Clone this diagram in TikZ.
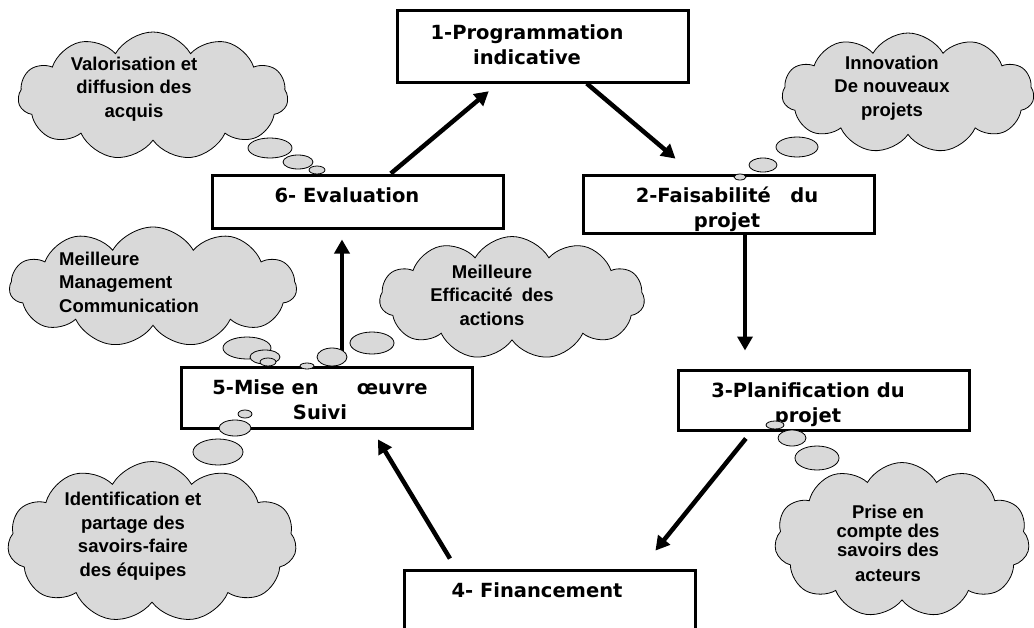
\documentclass[tikz,border=0pt]{standalone}
\usepackage{fontspec}
\newfontfamily\stagefont{DejaVu Sans}
\newfontfamily\thoughtfont{Liberation Sans}
\usetikzlibrary{shapes.symbols,arrows.meta}
\definecolor{cloudgray}{RGB}{217,217,217}

\begin{document}
\begin{tikzpicture}[x=1pt, y=-1pt,
  stage/.style = {draw, line width=3pt, minimum width=291pt},
  stagetext/.style = {font=\stagefont\bfseries\fontsize{19.5}{25}\selectfont, align=center, inner sep=0pt},
  thought/.style = {cloud, cloud puffs=11, cloud puff arc=120, cloud ignores aspect, draw, line width=.8pt, fill=cloudgray, inner sep=0pt},
  thoughttext/.style = {font=\thoughtfont\bfseries\fontsize{18.5}{23.5}\selectfont, align=center, inner sep=0pt},
  bubble/.style = {draw, line width=.8pt, fill=cloudgray},
  flow/.style = {line width=4.5pt, -{Triangle[length=14pt,width=15pt]}}]
  \useasboundingbox (0,0) rectangle (1034,627);

  % clouds
  \node[thought, minimum width=270pt, minimum height=128pt] (cval) at (153,96) {};
  \node[thought, minimum width=252pt, minimum height=120pt] (cinno) at (908,93) {};
  \node[thought, minimum width=287pt, minimum height=120pt] (cmana) at (153,287) {};
  \node[thought, minimum width=265pt, minimum height=123pt] (cflex) at (512,298) {};
  \node[thought, minimum width=255pt, minimum height=155pt] (cprise) at (902,540) {};
  \node[thought, minimum width=289pt, minimum height=161pt] (cident) at (152,542) {};

  \node[thoughttext] (tval) at (134,89) {Valorisation et\\diffusion des\\acquis};
  \node[thoughttext] (tinno) at (892,88) {Innovation\\De nouveaux\\projets};
  \node[thoughttext, align=left, anchor=west] (tmana) at (59,282) {Meilleure\\Management\\Communication};
  \node[thoughttext] (tflex) at (492,295) {Meilleure\\Efficacité\enspace des\\actions};
  \node[thoughttext, font=\thoughtfont\bfseries\fontsize{18.5}{19}\selectfont] (tprise) at (888,543) {Prise en\\compte des\\savoirs des\\[6pt]acteurs};
  \node[thoughttext] (tident) at (133,536) {Identification et\\partage des\\savoirs-faire\\des équipes};

  % stages
  \node[stage, minimum height=72pt] (b1) at (542.5,46) {};
  \node[stage, minimum height=58pt] (b2) at (729,204) {};
  \node[stage, minimum height=60pt] (b3) at (823.5,400) {};
  \node[stage, minimum height=64pt] (b4) at (550,602) {};
  \node[stage, minimum height=61pt] (b5) at (326.5,397.5) {};
  \node[stage, minimum height=53pt] (b6) at (357.5,201.5) {};

  \node[stagetext] (s1) at (527,45) {1-Programmation\\indicative};
  \node[stagetext] (s2) at (727,209) {2-Faisabilité\quad du\\projet};
  \node[stagetext] (s3) at (808,405) {3-Planification du\\projet};
  \node[stagetext] (s4) at (537,590) {4- Financement};
  \node[stagetext] (s5) at (320,400) {5-Mise en\hspace{38pt}œuvre\\Suivi};
  \node[stagetext] (s6) at (347,195) {6- Evaluation};

  % cycle
  \draw[flow, shorten >=12pt] (b6) -- (b1);
  \draw[flow, shorten >=23pt] (b1) -- (b2);
  \draw[flow, shorten >=18pt] ([xshift=16pt]b2.south) -- ([xshift=-78.5pt]b3.north);
  \draw[flow, shorten <=9pt, shorten >=23pt] ([xshift=-72pt]b3.south) -- ([xshift=91pt]b4.north);
  \draw[flow, shorten <=11.6pt, shorten >=11.6pt] ([xshift=-94pt]b4.north) -- ([xshift=45.5pt]b5.south);
  \draw[flow, shorten <=8pt, shorten >=10pt] ([xshift=15.5pt]b5.north) -- ([xshift=-15.5pt]b6.south);

  % thought bubbles
  \foreach \x/\y/\rx/\ry in {270/148/22/10, 298/162/15/7, 317/170/8/4,
      797/147/21/10, 763/165/14/7, 740/177/6/3,
      247/348/24/11, 265/357/15/7, 268/362/8/4,
      307/366/7/3, 332/357/15/9, 372/343/22/11,
      775/425/9/4, 792/438/14/8, 817/458/22/12,
      245/414/7/4, 235/428/16/8, 218/452/25/13}
    \draw[bubble] (\x,\y) ellipse [x radius=\rx pt, y radius=\ry pt];
\end{tikzpicture}
\end{document}
